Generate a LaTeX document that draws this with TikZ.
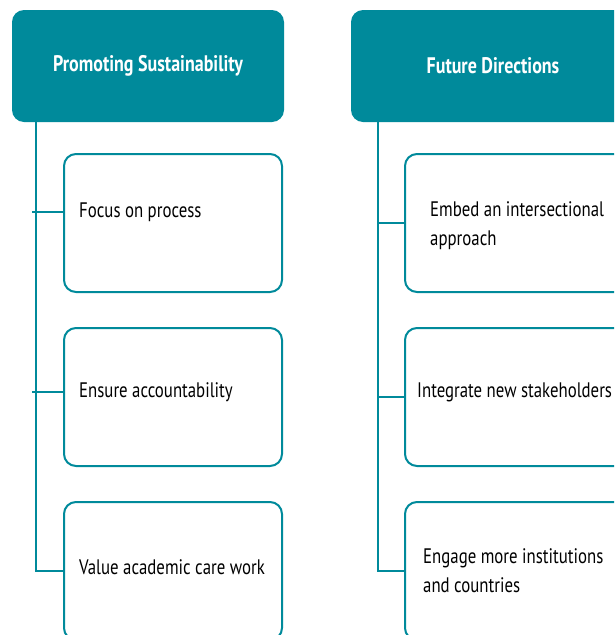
\documentclass[tikz,border=0pt]{standalone}
\usepackage{fontspec}
\setmainfont{PT Sans}[FakeStretch=0.8]
\usetikzlibrary{positioning,calc}
\definecolor{headteal}{HTML}{008A9B}

\begin{document}
\begin{tikzpicture}[x=1pt,y=-1pt,
	header/.style={fill=headteal, rounded corners=12pt, minimum width=272pt, minimum height=112pt,
		inner sep=0pt, text=white, font=\fontsize{22.5}{26}\selectfont\bfseries},
	item/.style={draw=headteal, line width=2pt, rounded corners=12pt, minimum width=218pt,
		minimum height=138pt, inner sep=0pt},
	itemtext/.style={anchor=west, align=left, inner sep=0pt, font=\fontsize{21}{29}\selectfont},
	link/.style={headteal, line width=2pt}]
	% Page
	\useasboundingbox (0,0) rectangle (614,635);
	\clip (0,0) rectangle (614,635);
	
	% Headers
	\node[header] (ps) at (148,66) {Promoting Sustainability};
	\node[header, minimum width=284pt] (fd) at (493,66) {Future Directions};
	
	% Left column
	\node[item] (ps1) at (173,223) {};
	\node[item] (ps2) at (173,397) {};
	\node[item] (ps3) at (173,571) {};
	\node[itemtext] (pt1) at (79,212) {Focus on process};
	\node[itemtext] (pt2) at (79,392) {Ensure accountability};
	\node[itemtext] (pt3) at (79,567) {Value academic care work};
	
	% Right column
	\node[item, minimum width=224pt] (fd1) at (517,223) {};
	\node[item, minimum width=224pt] (fd2) at (517,397) {};
	\node[item, minimum width=224pt] (fd3) at (517,571) {};
	\node[itemtext] (ft1) at (430,226) {Embed an intersectional\\approach};
	\node[itemtext] (ft2) at (417,392) {Integrate new stakeholders};
	\node[itemtext] (ft3) at (423,571) {Engage more institutions\\and countries};
	
	% Connectors
	\draw[link] ([xshift=24pt]ps.south west) |- (ps3.west);
	\draw[link] (ps1.west |- pt1) -- ++(-31,0);
	\draw[link] (ps2.west |- pt2) -- ++(-31,0);
	\draw[link] ([xshift=27pt]fd.south west) |- (fd3.west);
	\draw[link] (fd1.west) -- ++(-27,0);
	\draw[link] (fd2.west) -- ++(-27,0);
\end{tikzpicture}
\end{document}
